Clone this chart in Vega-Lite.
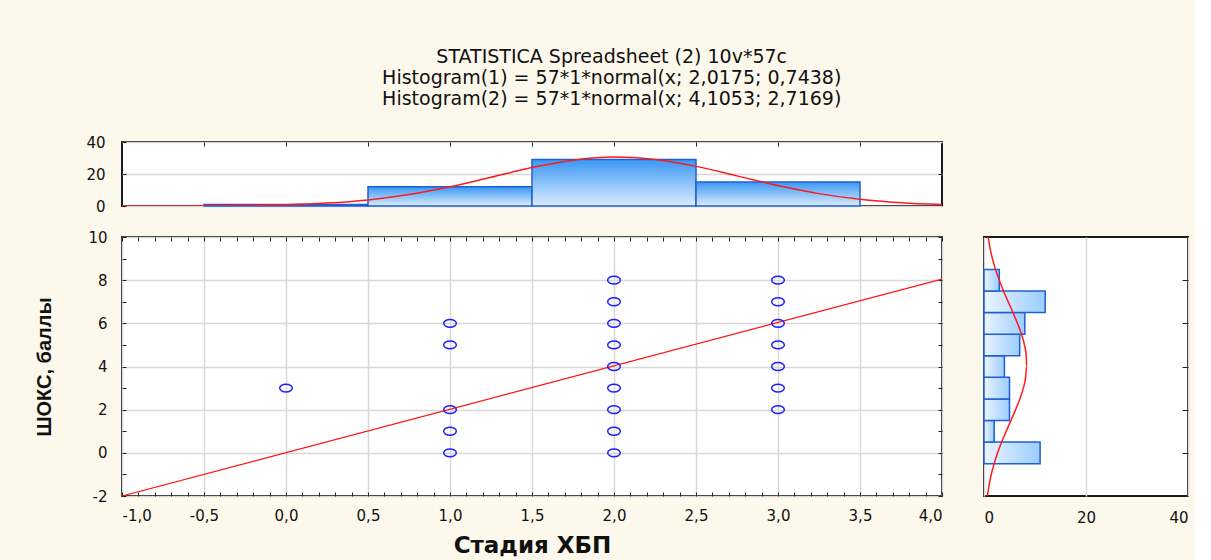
{
  "$schema": "https://vega.github.io/schema/vega-lite/v6.json",
  "background": "#fdf8ec",
  "padding": {"left": 33, "top": 48, "right": 5, "bottom": 5},
  "title": {
    "text": ["STATISTICA Spreadsheet (2) 10v*57c", "Histogram(1) = 57*1*normal(x; 2,0175; 0,7438)", "Histogram(2) = 57*1*normal(x; 4,1053; 2,7169)"],
    "font": "DejaVu Sans", "fontSize": 19, "fontWeight": "normal", "color": "#111111",
    "lineHeight": 21, "anchor": "middle", "offset": 25
  },
  "datasets": {
    "points": [
      {"stage": 0, "score": 3},
      {"stage": 1, "score": 0}, {"stage": 1, "score": 1}, {"stage": 1, "score": 2}, {"stage": 1, "score": 5}, {"stage": 1, "score": 6},
      {"stage": 2, "score": 0}, {"stage": 2, "score": 1}, {"stage": 2, "score": 2}, {"stage": 2, "score": 3}, {"stage": 2, "score": 4}, {"stage": 2, "score": 5}, {"stage": 2, "score": 6}, {"stage": 2, "score": 7}, {"stage": 2, "score": 8},
      {"stage": 3, "score": 2}, {"stage": 3, "score": 3}, {"stage": 3, "score": 4}, {"stage": 3, "score": 5}, {"stage": 3, "score": 6}, {"stage": 3, "score": 7}, {"stage": 3, "score": 8}
    ],
    "reg": [{"stage": -1, "score": -2}, {"stage": 4, "score": 8.05}],
    "topbars": [
      {"lo": -0.5, "hi": 0.5, "n": 1},
      {"lo": 0.5, "hi": 1.5, "n": 12},
      {"lo": 1.5, "hi": 2.5, "n": 29},
      {"lo": 2.5, "hi": 3.5, "n": 15}
    ],
    "topcurve": [
      {"x": -1, "f": 0.01}, {"x": -0.75, "f": 0.03}, {"x": -0.5, "f": 0.1}, {"x": -0.25, "f": 0.29},
      {"x": 0, "f": 0.77}, {"x": 0.25, "f": 1.82}, {"x": 0.5, "f": 3.82}, {"x": 0.75, "f": 7.16},
      {"x": 1, "f": 12.0}, {"x": 1.25, "f": 17.95}, {"x": 1.5, "f": 24.0}, {"x": 1.75, "f": 28.66},
      {"x": 2, "f": 30.56}, {"x": 2.25, "f": 29.11}, {"x": 2.5, "f": 24.77}, {"x": 2.75, "f": 18.82},
      {"x": 3, "f": 12.78}, {"x": 3.25, "f": 7.74}, {"x": 3.5, "f": 4.19}, {"x": 3.75, "f": 2.03}, {"x": 4, "f": 0.88}
    ],
    "rightbars": [
      {"lo": -0.5, "hi": 0.5, "n": 11},
      {"lo": 0.5, "hi": 1.5, "n": 2},
      {"lo": 1.5, "hi": 2.5, "n": 5},
      {"lo": 2.5, "hi": 3.5, "n": 5},
      {"lo": 3.5, "hi": 4.5, "n": 4},
      {"lo": 4.5, "hi": 5.5, "n": 7},
      {"lo": 5.5, "hi": 6.5, "n": 8},
      {"lo": 6.5, "hi": 7.5, "n": 12},
      {"lo": 7.5, "hi": 8.5, "n": 3}
    ],
    "rightcurve": [
      {"y": -2, "g": 0.67}, {"y": -1.5, "g": 1.0}, {"y": -1, "g": 1.43}, {"y": -0.5, "g": 1.99},
      {"y": 0, "g": 2.67}, {"y": 0.5, "g": 3.47}, {"y": 1, "g": 4.36}, {"y": 1.5, "g": 5.28},
      {"y": 2, "g": 6.2}, {"y": 2.5, "g": 7.03}, {"y": 3, "g": 7.71}, {"y": 3.5, "g": 8.16},
      {"y": 4, "g": 8.36}, {"y": 4.5, "g": 8.28}, {"y": 5, "g": 7.93}, {"y": 5.5, "g": 7.34},
      {"y": 6, "g": 6.56}, {"y": 6.5, "g": 5.68}, {"y": 7, "g": 4.74}, {"y": 7.5, "g": 3.83},
      {"y": 8, "g": 3.0}, {"y": 8.5, "g": 2.26}, {"y": 9, "g": 1.65}, {"y": 9.5, "g": 1.17}, {"y": 10, "g": 0.8}
    ]
  },
  "spacing": 14,
  "vconcat": [
    {
      "width": 820,
      "height": 64,
      "layer": [
        {
          "data": {"name": "topbars"},
          "mark": {"type": "rect", "fill": {"gradient": "linear", "x1": 0, "y1": 0, "x2": 0, "y2": 1, "stops": [{"offset": 0, "color": "#3a97f4"}, {"offset": 1, "color": "#dcedfd"}]}, "stroke": "#1f5fd6", "strokeWidth": 1.5},
          "encoding": {
            "x": {"field": "lo", "type": "quantitative", "scale": {"domain": [-1, 4], "nice": false, "zero": false},
                  "axis": {"orient": "top", "values": [-0.5, 0, 0.5, 1, 1.5, 2, 2.5, 3, 3.5], "labels": false, "grid": false, "tickSize": -4, "title": null}},
            "x2": {"field": "hi"},
            "y": {"field": "n", "type": "quantitative", "scale": {"domain": [0, 40], "nice": false},
                  "axis": {"orient": "left", "values": [0, 20, 40], "grid": true, "tickSize": -4, "labelPadding": 21, "title": null}},
            "y2": {"datum": 0}
          }
        },
        {
          "data": {"name": "topcurve"},
          "mark": {"type": "line", "color": "#ff1a1a", "strokeWidth": 1.5, "interpolate": "monotone", "clip": true},
          "encoding": {
            "x": {"field": "x", "type": "quantitative", "axis": null},
            "y": {"field": "f", "type": "quantitative", "axis": {"orient": "right", "values": [20], "labels": false, "grid": false, "tickSize": -4, "title": null}}
          }
        }
      ],
      "resolve": {"axis": {"y": "independent", "x": "independent"}}
    },
    {
      "spacing": 38,
      "hconcat": [
        {
          "width": 820,
          "height": 259,
          "layer": [
            {
              "data": {"name": "reg"},
              "mark": {"type": "line", "color": "#ff1010", "strokeWidth": 1.2, "clip": true},
              "encoding": {
                "x": {"field": "stage", "type": "quantitative", "scale": {"domain": [-1, 4], "nice": false, "zero": false},
                      "axis": {"orient": "bottom",
                               "values": [-1, -0.9, -0.8, -0.7, -0.6, -0.5, -0.4, -0.3, -0.2, -0.1, 0, 0.1, 0.2, 0.3, 0.4, 0.5, 0.6, 0.7, 0.8, 0.9, 1, 1.1, 1.2, 1.3, 1.4, 1.5, 1.6, 1.7, 1.8, 1.9, 2, 2.1, 2.2, 2.3, 2.4, 2.5, 2.6, 2.7, 2.8, 2.9, 3, 3.1, 3.2, 3.3, 3.4, 3.5, 3.6, 3.7, 3.8, 3.9, 4],
                               "labelExpr": "abs(datum.value*2 - round(datum.value*2)) < 0.01 ? replace(replace(format(datum.value, '.1f'), '.', ','), '−', '-') : ''",
                               "grid": true,
                               "gridOpacity": {"condition": {"test": "abs(datum.value*2 - round(datum.value*2)) < 0.01", "value": 1}, "value": 0},
                               "tickSize": -4, "labelPadding": 16,
                               "title": "Стадия ХБП", "titleFont": "DejaVu Sans", "titleFontSize": 23, "titleFontWeight": "bold", "titlePadding": 11, "titleColor": "#111111"}},
                "y": {"field": "score", "type": "quantitative", "scale": {"domain": [-2, 10], "nice": false, "zero": false},
                      "axis": {"orient": "left",
                               "values": [-2, -1, 0, 1, 2, 3, 4, 5, 6, 7, 8, 9, 10],
                               "labelExpr": "datum.value % 2 === 0 ? replace(format(datum.value, 'd'), '−', '-') : ''",
                               "grid": true,
                               "gridOpacity": {"condition": {"test": "datum.value % 2 === 0", "value": 1}, "value": 0},
                               "tickSize": -4, "labelPadding": 19,
                               "title": "ШОКС, баллы", "titleFont": "Liberation Sans", "titleFontSize": 20, "titleFontWeight": "bold", "titlePadding": 33, "titleColor": "#111111"}}
              }
            },
            {
              "data": {"name": "points"},
              "mark": {"type": "point", "shape": "M -1 0 A 1 0.62 0 1 0 1 0 A 1 0.62 0 1 0 -1 0 Z", "size": 160, "filled": false, "stroke": "#1e1eff", "strokeWidth": 1.5, "opacity": 1},
              "encoding": {
                "x": {"field": "stage", "type": "quantitative",
                      "axis": {"orient": "top", "values": [-1, -0.9, -0.8, -0.7, -0.6, -0.5, -0.4, -0.3, -0.2, -0.1, 0, 0.1, 0.2, 0.3, 0.4, 0.5, 0.6, 0.7, 0.8, 0.9, 1, 1.1, 1.2, 1.3, 1.4, 1.5, 1.6, 1.7, 1.8, 1.9, 2, 2.1, 2.2, 2.3, 2.4, 2.5, 2.6, 2.7, 2.8, 2.9, 3, 3.1, 3.2, 3.3, 3.4, 3.5, 3.6, 3.7, 3.8, 3.9, 4],
                               "labels": false, "grid": false, "tickSize": -4, "title": null}},
                "y": {"field": "score", "type": "quantitative",
                      "axis": {"orient": "right", "values": [-2, -1, 0, 1, 2, 3, 4, 5, 6, 7, 8, 9, 10], "labels": false, "grid": false, "tickSize": -4, "title": null}}
              }
            }
          ],
          "resolve": {"axis": {"x": "independent", "y": "independent"}}
        },
        {
          "width": 204,
          "height": 259,
          "layer": [
            {
              "data": {"name": "rightbars"},
              "mark": {"type": "rect", "fill": {"gradient": "linear", "x1": 0, "y1": 0, "x2": 1, "y2": 0, "stops": [{"offset": 0, "color": "#eaf4ff"}, {"offset": 1, "color": "#9ccdff"}]}, "stroke": "#1f5fd6", "strokeWidth": 1.5},
              "encoding": {
                "x": {"field": "n", "type": "quantitative", "scale": {"domain": [0, 40], "nice": false},
                      "axis": {"orient": "bottom", "values": [0, 20, 40], "grid": true, "tickSize": 0, "labelPadding": 14, "title": null}},
                "x2": {"datum": 0},
                "y": {"field": "lo", "type": "quantitative", "scale": {"domain": [-2, 10], "nice": false, "zero": false},
                      "axis": {"orient": "right", "values": [0, 2, 4, 6, 8], "labels": false, "grid": false, "tickSize": -6, "title": null}},
                "y2": {"field": "hi"}
              }
            },
            {
              "data": {"name": "rightcurve"},
              "mark": {"type": "line", "color": "#ff1a1a", "strokeWidth": 1.5, "interpolate": "monotone", "clip": true},
              "encoding": {
                "x": {"field": "g", "type": "quantitative", "axis": null},
                "y": {"field": "y", "type": "quantitative",
                      "axis": {"orient": "left", "values": [0, 2, 4, 6, 8], "labels": false, "grid": false, "tickSize": -3, "title": null}},
                "order": {"field": "y", "type": "quantitative"}
              }
            }
          ],
          "resolve": {"axis": {"y": "independent", "x": "independent"}}
        }
      ]
    }
  ],
  "config": {
    "view": {"stroke": "#1a1a1a", "strokeWidth": 2, "fill": "#ffffff"},
    "axis": {"domain": false, "labelFont": "DejaVu Sans", "labelFontSize": 15, "labelColor": "#111111", "tickColor": "#222222", "tickWidth": 1, "gridColor": "#d8d8d8", "gridWidth": 1.5, "labelOverlap": false, "labelBound": false}
  }
}
